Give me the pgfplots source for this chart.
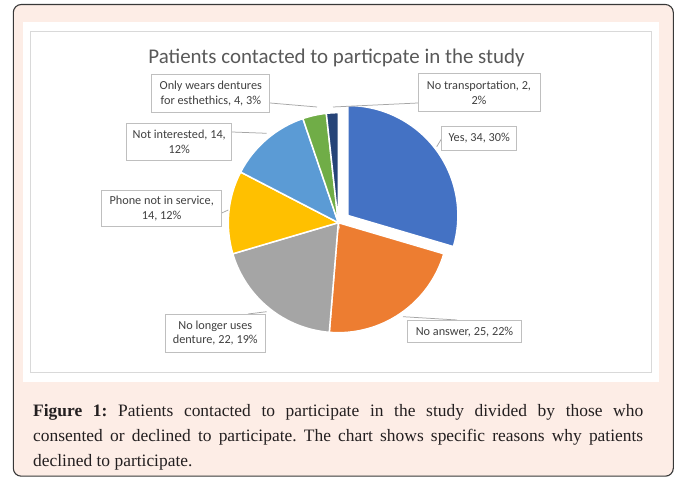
\documentclass[border=0pt]{standalone}
\usepackage{pgfplots}
\pgfplotsset{compat=1.18}
\usepackage{pgfplotstable}
\usepackage{fontspec}
\setmainfont{Liberation Serif}
\newfontfamily\calibri{Carlito}
\definecolor{cYes}{HTML}{4472C4}
\definecolor{cAns}{HTML}{ED7D31}
\definecolor{cLonger}{HTML}{A5A5A5}
\definecolor{cPhone}{HTML}{FFC000}
\definecolor{cNotInt}{HTML}{5B9BD5}
\definecolor{cEst}{HTML}{70AD47}
\definecolor{cTrans}{HTML}{264478}
\definecolor{framebg}{HTML}{FDEDE6}
\definecolor{framebd}{HTML}{383838}
\definecolor{chartbd}{HTML}{D9D9D9}
\definecolor{boxgray}{HTML}{BFBFBF}
\definecolor{leadgray}{HTML}{A6A6A6}
\definecolor{lblgray}{HTML}{404040}
\definecolor{titlegray}{HTML}{595959}
\definecolor{captext}{HTML}{231F20}

% value, colour, explosion (bp)
\pgfplotstableread{
value color explode
34 cYes 12
25 cAns 0
22 cLonger 0
14 cPhone 0
14 cNotInt 0
4 cEst 0
2 cTrans 0
}\piedata

\begin{document}
\frenchspacing
\begin{tikzpicture}[x=1bp,y=1bp,
  lbl/.style={draw=boxgray, fill=white, line width=0.75bp, inner sep=0pt,
    font=\calibri\fontsize{12.3}{14.8}\selectfont, text=lblgray, align=center},
  lead/.style={draw=leadgray, line width=0.75bp}]
\path[use as bounding box] (0,0) rectangle (677,477);
\filldraw[fill=framebg, draw=framebd, rounded corners=8bp, line width=1.1bp] (13.3,0.8) rectangle (673.3,472.5);
\fill[white] (22.7,95.3) rectangle (659.3,455);
\draw[chartbd, line width=0.9bp] (30.3,104.7) rectangle (651,445.3);
\begin{axis}[at={(0,0)}, anchor=south west, x=1bp, y=1bp,
  xmin=0, xmax=677, ymin=0, ymax=477, hide axis, clip=false]
\gdef\ptotal{0}
\pgfplotsinvokeforeach{0,...,6}{%
  \pgfplotstablegetelem{#1}{value}\of\piedata
  \pgfmathsetmacro\tmpsum{\ptotal+\pgfplotsretval}%
  \xdef\ptotal{\tmpsum}%
}
\gdef\pcum{0}
\pgfplotsinvokeforeach{0,...,6}{%
  \pgfplotstablegetelem{#1}{value}\of\piedata \let\pv\pgfplotsretval
  \pgfplotstablegetelem{#1}{color}\of\piedata \let\pcol\pgfplotsretval
  \pgfplotstablegetelem{#1}{explode}\of\piedata \let\pex\pgfplotsretval
  \pgfmathsetmacro\sa{90-(\pcum/\ptotal)*360}%
  \pgfmathsetmacro\newcum{\pcum+\pv}%
  \xdef\pcum{\newcum}%
  \pgfmathsetmacro\ea{90-(\pcum/\ptotal)*360}%
  \pgfmathsetmacro\mx{\pex*cos((\sa+\ea)/2)}%
  \pgfmathsetmacro\my{\pex*sin((\sa+\ea)/2)}%
  \edef\temp{\noexpand\filldraw[fill=\pcol, draw=white, line width=1.5bp, shift={(\mx bp,\my bp)}]
    (axis cs:338.3,254.3) -- ++(\sa:110bp) arc[start angle=\sa, end angle=\ea, radius=110bp] -- cycle;}%
  \temp
}
% leader lines
\draw[lead] (axis cs:270,374) -- (axis cs:317,370);
\draw[lead] (axis cs:418,374) -- (axis cs:333,370);
\draw[lead] (axis cs:231.7,345) -- (axis cs:266.7,343.7);
\draw[lead] (axis cs:442,339) -- (axis cs:436.7,330.3);
\draw[lead] (axis cs:221.7,264) -- (axis cs:228.3,267);
\draw[lead] (axis cs:248,163) -- (axis cs:266.7,165.3);
\draw[lead] (axis cs:403,160.3) -- (axis cs:457,157);
% data labels
\node[lbl, minimum width=118bp, minimum height=38.7bp] at (axis cs:210.8,383.7) {Only wears dentures\\for esthethics, 4, 3\%};
\node[lbl, minimum width=122bp, minimum height=38bp] at (axis cs:479,384.5) {No transportation, 2,\\2\%};
\node[lbl, minimum width=105bp, minimum height=37bp] at (axis cs:179.2,335.5) {Not interested, 14,\\12\%};
\node[lbl, minimum width=75bp, minimum height=23.3bp] at (axis cs:479.2,338.7) {Yes, 34, 30\%};
\node[lbl, minimum width=120bp, minimum height=36.7bp] at (axis cs:161.7,268.7) {Phone not in service,\\14, 12\%};
\node[lbl, minimum width=99.3bp, minimum height=38bp] at (axis cs:215.3,144) {No longer uses\\denture, 22, 19\%};
\node[lbl, minimum width=114.4bp, minimum height=22bp] at (axis cs:464.5,145.3) {No answer, 25, 22\%};
% title
\node[font=\calibri\fontsize{21}{24}\selectfont, text=titlegray] at (axis cs:336.5,419) {Patients contacted to particpate in the study};
\end{axis}
\node[anchor=north west, inner sep=0pt, text width=610bp, align=justify,
  font=\fontsize{17.5}{25}\selectfont, text=captext] at (33,73)
  {\textbf{Figure 1:} Patients contacted to participate in the study divided by those who\linebreak consented or declined to participate. The chart shows specific reasons why patients\linebreak declined to participate.};
\end{tikzpicture}
\end{document}
